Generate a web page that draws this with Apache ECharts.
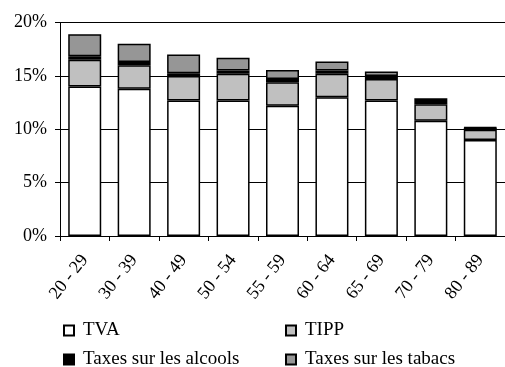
<!DOCTYPE html>
<html>
<head>
<meta charset="utf-8">
<script src="https://cdn.jsdelivr.net/npm/echarts@6/dist/echarts.min.js"></script>
<style>html,body{margin:0;padding:0;background:#fff}#c{width:505px;height:367px}</style>
</head>
<body>
<div id="c"></div>
<script>
const categories = ["20 - 29", "30 - 39", "40 - 49", "50 - 54", "55 - 59", "60 - 64", "65 - 69", "70 - 79", "80 - 89"];
const tva = [14.0, 13.8, 12.7, 12.7, 12.2, 13.0, 12.7, 10.8, 9.0];
const tipp = [2.5, 2.2, 2.3, 2.5, 2.2, 2.2, 2.0, 1.55, 0.95];
const alcools = [0.35, 0.3, 0.25, 0.3, 0.3, 0.3, 0.3, 0.3, 0.2];
const tabacs = [2.05, 1.7, 1.75, 1.2, 0.85, 0.85, 0.4, 0.25, 0.05];
const yTicks = [0, 5, 10, 15, 20];

const font = "'Liberation Serif', 'Times New Roman', serif";
const chart = echarts.init(document.getElementById('c'));
function s(name, data, color) {
  return {
    name, type: 'bar', stack: 'total', data, barWidth: 33,
    itemStyle: { color, borderColor: '#000', borderWidth: 1.5 },
    emphasis: { disabled: true }
  };
}
function lg(name, left, top) {
  return {
    data: [name], left, top, padding: 0, icon: 'rect',
    itemWidth: 10, itemHeight: 10, selectedMode: false,
    textStyle: { fontSize: 19, color: '#000', fontFamily: font, padding: [0, 0, 0, 4] }
  };
}
chart.setOption({
  animation: false,
  textStyle: { fontFamily: font },
  grid: { left: 60, right: -5.5, top: 22.5, bottom: 131, containLabel: false },
  xAxis: {
    type: 'category', data: categories, boundaryGap: true,
    axisLine: { lineStyle: { color: '#000', width: 1 } },
    axisTick: { show: true, length: 5, alignWithLabel: false, lineStyle: { color: '#000' } },
    axisLabel: { rotate: 52, margin: 21, color: '#000', fontSize: 18, fontFamily: font }
  },
  yAxis: {
    type: 'value', min: yTicks[0], max: yTicks[yTicks.length - 1], interval: 5,
    axisLine: { show: true, lineStyle: { color: '#000', width: 1 } },
    axisTick: { show: true, length: 5, lineStyle: { color: '#000' } },
    axisLabel: { formatter: '{value}%', margin: 13, color: '#000', fontSize: 18, fontFamily: font },
    splitLine: { show: true, lineStyle: { color: '#000', width: 1 } }
  },
  legend: [
    lg('TVA', 63, 321),
    lg('Taxes sur les alcools', 63, 350),
    lg('TIPP', 285, 321),
    lg('Taxes sur les tabacs', 285, 350)
  ],
  series: [
    s('TVA', tva, '#ffffff'),
    s('TIPP', tipp, '#c0c0c0'),
    s('Taxes sur les alcools', alcools, '#000000'),
    s('Taxes sur les tabacs', tabacs, '#969696')
  ]
});
</script>
</body>
</html>
